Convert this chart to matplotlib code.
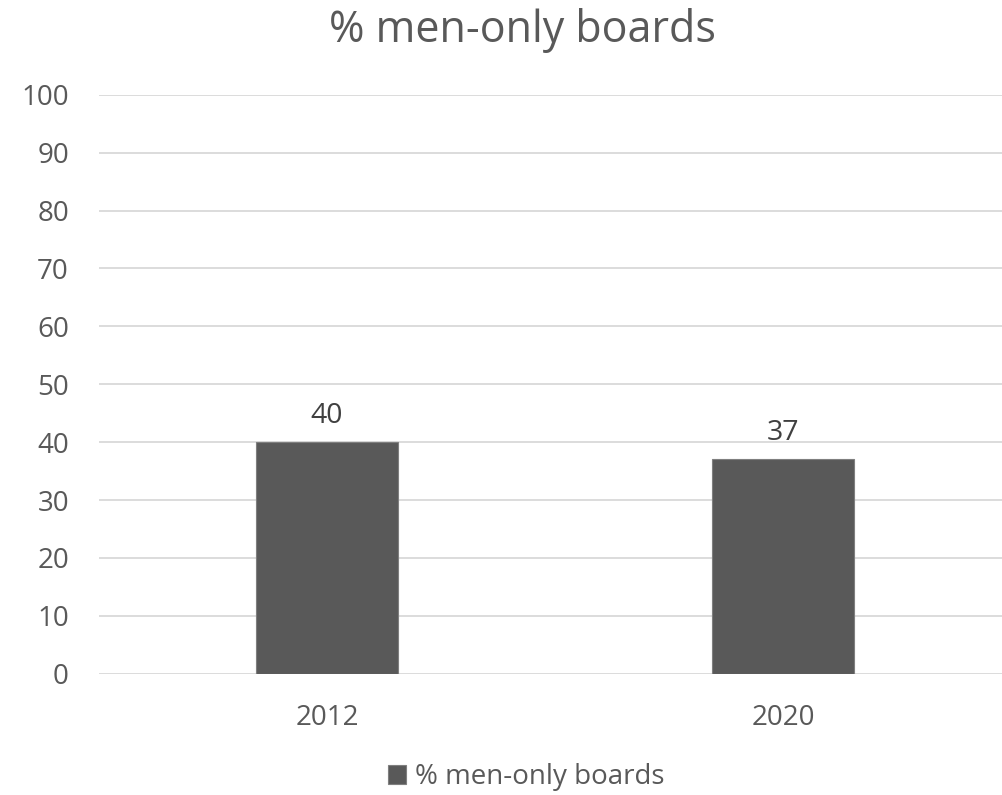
import matplotlib
matplotlib.use("Agg")
import matplotlib.pyplot as plt
import numpy as np

years = ["2012", "2020"]
men_only = [40, 37]
series_name = "% men-only boards"
yticks = list(range(0, 101, 10))

text_col = "#595959"
grid_col = "#d9d9d9"
bar_col = "#595959"

plt.rcParams['font.family'] = ['Open Sans', 'DejaVu Sans']

fig = plt.figure(figsize=(10.02, 7.95), dpi=100)
ax = fig.add_axes([99 / 1002, 1 - 673.7 / 795, 1 - 99 / 1002, (673.7 - 94.7) / 795])

x = np.arange(len(years))
bars = ax.bar(x, men_only, width=0.313, color=bar_col, edgecolor="#7f7f7f",
              linewidth=0.8, label=series_name, zorder=3)

for xi, v in zip(x, men_only):
    ax.text(xi, v + 3.33, str(v), ha="center", va="baseline", fontsize=20.5, color="#404040")

ax.set_xlim(-0.5, 1.48)
ax.set_ylim(0, 100)
ax.set_yticks(yticks)
ax.set_xticks(x)
ax.set_xticklabels(years)
ax.tick_params(axis="both", length=0, labelsize=20, colors=text_col)
ax.tick_params(axis="y", pad=21.6)
ax.tick_params(axis="x", pad=21.5)
ax.grid(axis="y", color=grid_col, linewidth=1.3, zorder=0)
for s in ax.spines.values():
    s.set_visible(False)

# chart title (the original chart is centred a bit right of the image centre)
fig.text(522 / 1002, 1 - 42 / 795, "% men-only boards", ha="center", va="baseline",
         fontsize=31, color=text_col)

fig.legend(handles=[bars], labels=[series_name], loc="center",
           bbox_to_anchor=(526 / 1002, 1 - 777 / 795), frameon=False, fontsize=20,
           handlelength=0.65, handleheight=0.65, handletextpad=0.32,
           borderpad=0, borderaxespad=0, labelcolor=text_col)

fig.savefig("out.png", dpi=100)
